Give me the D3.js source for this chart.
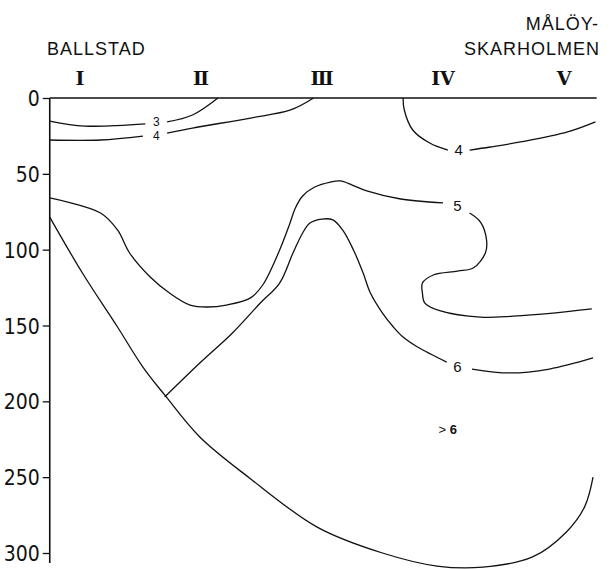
<!DOCTYPE html>
<html>
<head>
<meta charset="utf-8">
<script src="https://cdn.jsdelivr.net/npm/d3@7"></script>
<style>
  body { margin: 0; background: #fff; }
  .tick text { font-family: "Liberation Sans Narrow", "DejaVu Sans Condensed", "Liberation Sans", sans-serif; font-size: 21px; fill: #111; }
  .tick line { stroke: #111; stroke-width: 1.3; }
  .iso { fill: none; stroke: #111; stroke-width: 1.3; }
  .place { font-family: "Liberation Sans", sans-serif; font-size: 18px; fill: #111; letter-spacing: 1px; }
  .station { font-family: "DejaVu Serif", "Liberation Serif", serif; font-size: 19px; font-weight: bold; fill: #111; }
  .isoLabel { font-family: "Liberation Sans", sans-serif; fill: #111; }
</style>
</head>
<body>
<script>
const svgWidth = 616;
const svgHeight = 569;

// stations along the section (station units)
const stationNames = ["I", "Ⅱ", "Ⅲ", "IV", "V"];
const stationPos = [1, 2, 3, 4, 5];
const depthTicks = [0, 50, 100, 150, 200, 250, 300];

// isolines: [station position, depth m]; each isoline split where its label sits
const iso3 = [
  [[0.75, 15.2], [1.04, 18.5], [1.54, 17.1]],
  [[1.72, 15.8], [1.93, 11.2], [2.14, 0]]
];
const iso4West = [
  [[0.75, 27.7], [1.17, 27.7], [1.52, 25.1]],
  [[1.72, 23.1], [1.93, 19.8], [2.41, 13.2], [2.74, 7.9], [2.93, 0]]
];
const iso4East = [
  [[3.67, 0], [3.68, 7.9], [3.75, 21.1], [3.89, 29.7], [4.04, 34.3]],
  [[4.22, 34.3], [4.39, 32.3], [4.64, 29.0], [5.03, 22.4], [5.26, 15.8]]
];
const iso5 = [
  [[0.75, 65.9], [1.17, 75.8], [1.31, 87.0], [1.41, 102.2], [1.58, 118.0], [1.74, 128.6],
   [1.91, 136.5], [2.05, 137.8], [2.21, 136.5], [2.41, 131.8], [2.51, 123.3], [2.65, 100.2],
   [2.73, 83.7], [2.78, 72.5], [2.84, 64.6], [2.94, 58.7], [3.07, 55.4], [3.15, 54.7],
   [3.25, 57.4], [3.37, 61.3], [3.65, 66.6], [4.00, 69.2]],
  [[4.22, 75.8], [4.31, 81.8], [4.36, 93.6], [4.35, 102.2], [4.25, 112.1], [4.12, 114.1],
   [3.92, 116.7], [3.83, 122.0], [3.83, 128.6], [3.85, 135.2], [3.98, 140.4], [4.31, 144.5],
   [4.58, 143.8], [4.91, 141.8], [5.23, 139.1]]
];
const iso6 = [
  [[1.70, 197.1], [1.99, 174.7], [2.26, 154.9], [2.49, 135.2], [2.65, 122.0], [2.76, 102.2],
   [2.84, 89.0], [2.90, 82.4], [3.00, 79.8], [3.09, 80.4], [3.17, 87.0], [3.26, 100.2],
   [3.34, 115.4], [3.40, 128.6], [3.50, 141.8], [3.59, 151.0], [3.67, 157.6], [3.79, 164.2],
   [4.03, 174.1]],
  [[4.24, 178.7], [4.55, 181.3], [4.88, 178.7], [5.24, 171.4]]
];
const seabed = [
  [0.75, 78.5], [1.02, 115.4], [1.31, 151.0], [1.52, 177.4], [1.70, 195.8], [1.99, 223.5],
  [2.40, 250.5], [2.96, 282.9], [3.50, 300.0], [3.95, 308.6], [4.33, 309.3], [4.74, 302.6],
  [5.02, 286.1], [5.17, 269.6], [5.24, 249.9]
];

// label text and where it sits
const isoLabels = [
  { text: "3", pos: [1.63, 15.3], size: 12 },
  { text: "4", pos: [1.63, 24.8], size: 12 },
  { text: "4", pos: [4.13, 34.3], size: 15 },
  { text: "5", pos: [4.12, 70.8], size: 15 },
  { text: "6", pos: [4.12, 177.0], size: 15 }
];
const warmLabel = { pos: [4.04, 218.5] };

const svg = d3.select("body")
  .append("svg")
  .attr("width", svgWidth)
  .attr("height", svgHeight);

const x = d3.scaleLinear().domain([1, 5]).range([80, 564]);
const y = d3.scaleLinear().domain([0, 300]).range([98, 553]);

// depth axis
const leftAxis = d3.axisLeft(y)
  .tickValues(depthTicks)
  .tickSize(7)
  .tickPadding(3);

const yAxis = svg.append("g")
  .attr("transform", `translate(${x(0.75)}, 0)`)
  .call(leftAxis);
yAxis.select(".domain").remove();
yAxis.selectAll(".tick text").attr("dy", "0.36em");

svg.append("line")
  .attr("x1", x(0.75)).attr("x2", x(0.75))
  .attr("y1", y(0)).attr("y2", y(300) + 10)
  .attr("stroke", "#111").attr("stroke-width", 1.6);

// sea surface
svg.append("line")
  .attr("x1", x(0.75)).attr("x2", x(5.27))
  .attr("y1", y(0)).attr("y2", y(0))
  .attr("stroke", "#111").attr("stroke-width", 1.6);

// stations
svg.selectAll(".station")
  .data(stationNames)
  .enter()
  .append("text")
  .attr("class", "station")
  .attr("x", (d, i) => x(stationPos[i]))
  .attr("y", 85)
  .attr("text-anchor", "middle")
  .text(d => d);

svg.append("text").attr("class", "place")
  .attr("x", 47).attr("y", 55).text("BALLSTAD");
svg.append("text").attr("class", "place")
  .attr("x", 599).attr("y", 30).attr("text-anchor", "end").text("MÅLÖY-");
svg.append("text").attr("class", "place")
  .attr("x", 600).attr("y", 55).attr("text-anchor", "end").text("SKARHOLMEN");

const line = d3.line()
  .x(d => x(d[0]))
  .y(d => y(d[1]))
  .curve(d3.curveCatmullRom.alpha(0.5));

const segments = [].concat(iso3, iso4West, iso4East, iso5, iso6, [seabed]);

svg.selectAll(".iso")
  .data(segments)
  .enter()
  .append("path")
  .attr("class", "iso")
  .attr("d", line);

svg.selectAll(".isoLabel")
  .data(isoLabels)
  .enter()
  .append("text")
  .attr("class", "isoLabel")
  .attr("x", d => x(d.pos[0]))
  .attr("y", d => y(d.pos[1]))
  .attr("dy", "0.36em")
  .attr("text-anchor", "middle")
  .style("font-size", d => d.size + "px")
  .text(d => d.text);

const warm = svg.append("text")
  .attr("class", "isoLabel")
  .attr("x", x(warmLabel.pos[0]))
  .attr("y", y(warmLabel.pos[1]))
  .attr("dy", "0.36em")
  .attr("text-anchor", "middle")
  .style("font-size", "13px");
warm.append("tspan").text("> ");
warm.append("tspan").attr("font-weight", "bold").text("6");
</script>
</body>
</html>
